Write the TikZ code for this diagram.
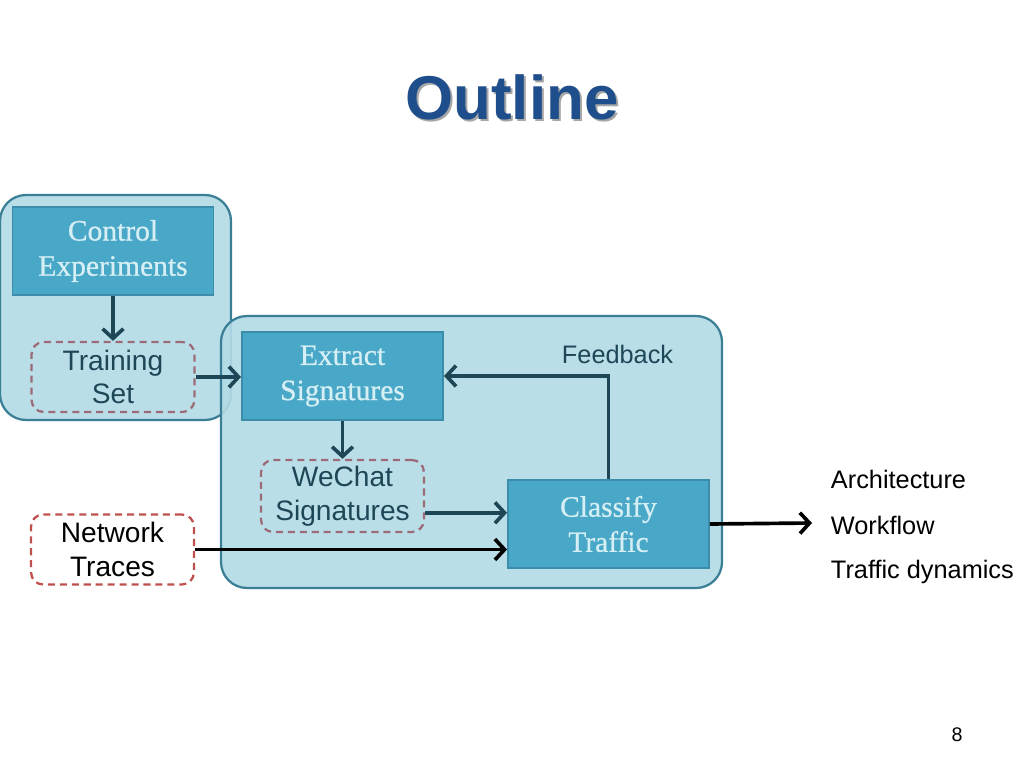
\documentclass[tikz,border=0pt]{standalone}
\usepackage{fontspec}
\setmainfont{Liberation Sans}
\newfontfamily\boxfont[FakeBold=0.7]{Liberation Serif}
\usetikzlibrary{arrows.meta,positioning}
\definecolor{groupfill}{HTML}{B3DBE6}
\definecolor{groupline}{HTML}{3A7F95}
\definecolor{stepfill}{HTML}{49A8C7}
\definecolor{stepline}{HTML}{3B8DAA}
\definecolor{steptext}{HTML}{D6EFF5}
\definecolor{flowcol}{HTML}{1D4656}
\definecolor{datadash}{HTML}{9C6B78}
\definecolor{tracedash}{HTML}{C0504D}
\definecolor{titleblue}{HTML}{1F4E8C}
\begin{document}
\begin{tikzpicture}[
x=0.025cm,y=-0.025cm,
group/.style={draw=groupline,fill=groupfill,line width=1.6pt,rounded corners=0.65cm,fill opacity=0.9},
stepbox/.style={rectangle,draw=stepline,fill=stepfill,line width=1.2pt,
  minimum width=5.03cm,minimum height=2.2cm,align=center,text=steptext,
  font=\boxfont\fontsize{21}{25}\selectfont},
databox/.style={rectangle,draw=datadash,dashed,dash pattern=on 5pt off 3.5pt,line width=1.6pt,
  rounded corners=0.3cm,minimum width=4.07cm,minimum height=1.75cm,align=center,
  text=flowcol,font=\fontsize{20}{24}\selectfont},
flow/.style={draw=flowcol,line width=2.6pt,-{Straight Barb[length=2.4mm,width=5.2mm,line width=0pt 1]}},
label/.style={font=\fontsize{18}{22}\selectfont,anchor=west}
]
\useasboundingbox[fill=white] (0,0) rectangle (1024,768);

% title
\node[text=black!35,font=\bfseries\fontsize{44}{50}\selectfont] at (514,99) {Outline};
\node (title) [text=titleblue,font=\bfseries\fontsize{44}{50}\selectfont] at (512,97) {Outline};

% groups
\draw[group] (0,195) rectangle (231,420);
\draw[group] (221,316) rectangle (722,588);

% steps
\node (ctl) [stepbox] at (113,251) {Control\\Experiments};
\node (trn) [databox] at (113,377) {Training\\Set};
\node (ext) [stepbox] at (342.5,376) {Extract\\Signatures};
\node (wec) [databox,minimum height=1.8cm] at (342.5,496) {WeChat\\Signatures};
\node (cls) [stepbox] at (608.5,524) {Classify\\Traffic};
\node (net) [databox,draw=tracedash,text=black] at (112.5,549.5) {Network\\Traces};

% connectors
\draw[flow] (ctl) -- (trn);
\draw[flow] (trn.east) -- (trn.east -| ext.west);
\draw[flow] (ext) -- (wec);
\draw[flow] ([yshift=-0.42cm]wec.east) -- ([yshift=-0.42cm]wec.east -| cls.west);
\draw[flow,draw=black] (net.east) -- (net.east -| cls.west);
\draw[flow] (cls.north) |- (ext.east);
\node (fb) [label,text=flowcol] at (557,354) {Feedback};

\coordinate (out) at (812,523);
\draw[flow,draw=black] (cls.east) -- (out);

% outline items
\node (arch) [label] at (826,479) {Architecture};
\node (work) [label] at (826,525) {Workflow};
\node (dyn) [label] at (826,572) {Traffic dynamics};

\node (page) [font=\fontsize{14}{16}\selectfont] at (957,735) {8};
\end{tikzpicture}
\end{document}
